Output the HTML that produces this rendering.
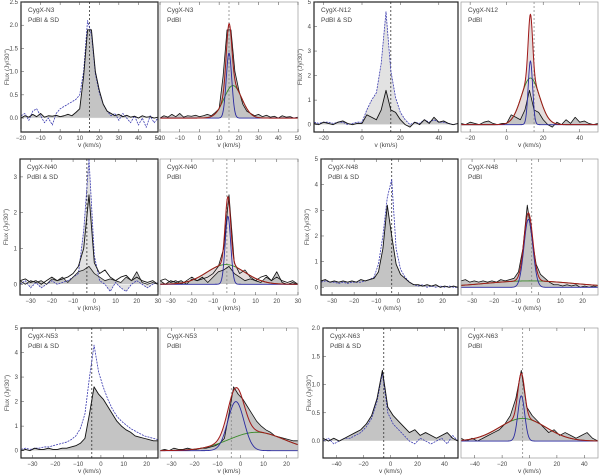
<!DOCTYPE html>
<html><head><meta charset="utf-8"><style>
body{margin:0;background:#fff;}
svg{display:block;font-family:"Liberation Sans",sans-serif;}
</style></head><body>
<svg id="fig" width="600" height="475" viewBox="0 0 600 475"></svg>
<script>
// ---- data ----
const n3Black=[0.0,0.05,0.02,0.08,0.03,0.1,0.02,0.05,0.04,0.06,0.03,0.05,0.08,0.05,0.12,0.2,0.9,1.9,1.9,1.0,0.6,0.3,0.15,0.1,0.05,0.08,0.03,0.06,0.02,0.04,0.0,0.05,0.02,0.03,0.0,0.02];
const n3Blue=[0.05,0.1,-0.05,0.15,0.2,0.05,-0.1,0.0,-0.15,0.1,0.2,0.25,0.3,0.35,0.4,0.5,1.0,2.1,1.8,0.95,0.55,0.3,0.15,0.05,0.1,-0.05,0.1,0.0,-0.1,0.05,-0.15,0.0,-0.2,0.05,-0.1,0.0];
const n12Black=[0.05,0.0,0.1,0.05,0.0,0.1,0.15,0.05,0.0,0.05,0.05,0.4,0.3,0.2,0.6,1.4,0.6,0.5,0.2,0.0,-0.1,0.1,0.0,0.2,0.05,0.3,0.1,0.15,0.05,0.0,0.05];
const n12Blue=[0.1,0.05,0.1,0.1,0.05,0.1,0.1,0.0,0.05,0.1,0.1,0.6,1.0,1.3,2.5,4.6,2.2,1.1,0.5,0.2,0.0,0.1,0.05,0.2,0.1,0.2,0.1,0.1,0.05,0.0,0.05];
const n40Black=[0.1,0.15,0.05,0.1,0.0,0.1,0.2,0.1,0.15,0.2,0.3,0.5,1.0,2.5,0.6,0.3,0.4,0.2,0.1,0.2,0.25,0.1,0.2,0.1,0.05,0.1,0.0];
const n40Blue=[0.0,0.1,-0.1,0.05,-0.1,0.0,0.1,0.0,0.05,0.1,0.2,0.3,1.5,3.5,0.8,0.1,0.0,-0.2,0.05,-0.1,-0.2,0.0,0.1,0.0,-0.1,0.0,0.05];
const n40Pdbi=[0.1,0.0,0.1,0.05,0.1,0.0,0.15,0.1,0.2,0.05,0.2,0.35,0.4,0.5,0.3,0.2,0.1,0.15,0.1,0.05,0.2,0.1,0.35,0.05,0.0,0.05,0.0];
const n48Black=[0.25,0.3,0.2,0.25,0.2,0.25,0.2,0.25,0.2,0.3,0.25,0.3,0.35,0.6,1.5,3.2,2.0,0.9,0.5,0.35,0.2,0.1,0.1,0.05,0.1,0.05,0.1,0.0,0.05,0.0,0.05,0.0];
const n48Blue=[0.2,0.25,0.2,0.2,0.15,0.2,0.15,0.2,0.2,0.2,0.25,0.3,0.4,0.9,2.0,3.5,4.2,1.5,0.7,0.4,0.2,0.1,0.05,0.1,0.0,0.05,0.0,0.05,0.0,0.05,0.0,0.0];
const n53Black=[0.0,0.05,0.0,0.1,0.05,0.05,0.1,0.05,0.05,0.1,0.1,0.15,0.2,0.3,0.5,1.5,2.6,2.3,2.1,1.8,1.5,1.2,1.0,0.85,0.75,0.6,0.55,0.5,0.45,0.4,0.4];
const n53Blue=[0.05,0.1,0.05,0.1,0.1,0.15,0.15,0.2,0.25,0.3,0.35,0.45,0.6,0.9,1.5,3.0,4.3,3.2,2.6,2.1,1.7,1.4,1.2,1.05,0.9,0.8,0.7,0.6,0.55,0.5,0.45];
const n63Black=[0.05,0.0,0.05,0.0,0.05,0.1,0.15,0.2,0.3,0.45,0.75,1.25,0.6,0.45,0.35,0.25,0.15,0.2,0.1,0.15,0.1,0.05,0.1,0.15,0.05,0.0];
const n63Blue=[0.0,0.05,-0.05,0.0,0.05,0.05,0.1,0.15,0.25,0.4,0.7,1.2,0.5,0.3,0.2,0.1,0.0,-0.05,0.05,0.0,-0.05,0.0,0.05,-0.05,0.1,0.0];
// fit components: [narrow, broad]
const fitCenters={n3:[15,17],n12:[13,13],n40:[-3,-4],n48:[-4.5,-4],n53:[-2,7],n63:[-6,-5]};
const fitAmps={n3:[1.4,0.7],n12:[2.6,1.9],n40:[1.9,0.55],n48:[2.65,0.25],n53:[2.0,0.75],n63:[0.8,0.4]};
const fitSigmas={n3:[1.4,4.5],n12:[1.2,5],n40:[1.3,9],n48:[2,20],n53:[3.5,12],n63:[2.5,17]};

const NS='http://www.w3.org/2000/svg';
const svg=document.getElementById('fig');
function mk(tag,attrs,parent){const e=document.createElementNS(NS,tag);for(const k in attrs)e.setAttribute(k,attrs[k]);(parent||svg).appendChild(e);return e;}

const rows=[[2,132],[159,295],[328,458]];
const panels=[
 {id:'n3',name:'CygX-N3',row:0,x0:21,x1:158,xr:[-20,50],yr:[-0.3,2.5],xt:[-20,-10,0,10,20,30,40,50],yt:[0,0.5,1,1.5,2,2.5],yf:1,vl:15,g0:-20,gs:2,blk:n3Black,blu:n3Blue,sd:true},
 {id:'n3',name:'CygX-N3',row:0,x0:160,x1:298,xr:[-20,50],yr:[-0.3,2.5],xt:[-20,-10,0,10,20,30,40,50],yt:[],vl:15,g0:-20,gs:2,blk:n3Black,sd:false},
 {id:'n12',name:'CygX-N12',row:0,x0:314,x1:458,xr:[-25,50],yr:[-0.3,5],xt:[-20,0,20,40],yt:[0,1,2,3,4,5],yf:0,vl:15,g0:-25,gs:2.5,blk:n12Black,blu:n12Blue,sd:true},
 {id:'n12',name:'CygX-N12',row:0,x0:461,x1:598,xr:[-25,50],yr:[-0.3,5],xt:[-20,0,20,40],yt:[],vl:15,g0:-25,gs:2.5,blk:n12Black,sd:false},
 {id:'n40',name:'CygX-N40',row:1,x0:20,x1:158,xr:[-35,30],yr:[-0.3,3.5],xt:[-30,-20,-10,0,10,20,30],yt:[0,1,2,3],yf:0,vl:-3.5,g0:-35,gs:2.5,blk:n40Black,blu:n40Blue,dark:n40Pdbi,sd:true},
 {id:'n40',name:'CygX-N40',row:1,x0:160,x1:298,xr:[-35,30],yr:[-0.3,3.5],xt:[-30,-20,-10,0,10,20,30],yt:[],vl:-3.5,g0:-35,gs:2.5,blk:n40Pdbi,sd:false},
 {id:'n48',name:'CygX-N48',row:1,x0:321,x1:458,xr:[-35,27],yr:[-0.3,5],xt:[-30,-20,-10,0,10,20],yt:[0,1,2,3,4,5],yf:0,vl:-3,g0:-35,gs:2,blk:n48Black,blu:n48Blue,sd:true},
 {id:'n48',name:'CygX-N48',row:1,x0:461,x1:598,xr:[-35,27],yr:[-0.3,5],xt:[-30,-20,-10,0,10,20],yt:[],vl:-3,g0:-35,gs:2,blk:n48Black,sd:false},
 {id:'n53',name:'CygX-N53',row:2,x0:21,x1:158,xr:[-35,25],yr:[-0.3,5],xt:[-30,-20,-10,0,10,20],yt:[0,1,2,3,4,5],yf:0,vl:-4,g0:-35,gs:2,blk:n53Black,blu:n53Blue,sd:true},
 {id:'n53',name:'CygX-N53',row:2,x0:160,x1:298,xr:[-35,25],yr:[-0.3,5],xt:[-30,-20,-10,0,10,20],yt:[],vl:-4,g0:-35,gs:2,blk:n53Black,sd:false},
 {id:'n63',name:'CygX-N63',row:2,x0:323,x1:458,xr:[-50,50],yr:[-0.3,2],xt:[-40,-20,0,20,40],yt:[0,0.5,1,1.5,2],yf:1,vl:-5,g0:-50,gs:4,blk:n63Black,blu:n63Blue,sd:true},
 {id:'n63',name:'CygX-N63',row:2,x0:461,x1:598,xr:[-50,50],yr:[-0.3,2],xt:[-40,-20,0,20,40],yt:[],vl:-5,g0:-50,gs:4,blk:n63Black,sd:false}
];

panels.forEach((p,pi)=>{
 const y0=rows[p.row][0], y1=rows[p.row][1];
 const sx=v=>p.x0+(v-p.xr[0])/(p.xr[1]-p.xr[0])*(p.x1-p.x0);
 const sy=f=>y1-(f-p.yr[0])/(p.yr[1]-p.yr[0])*(y1-y0);
 const g=mk('g',{});
 
 
 const clipId='c'+pi;
 const cp=mk('clipPath',{id:clipId},g);mk('rect',{x:p.x0,y:y0,width:p.x1-p.x0,height:y1-y0},cp);
 const plot=mk('g',{'clip-path':'url(#'+clipId+')'},g);
 const pts=arr=>arr.map((f,i)=>[sx(p.g0+i*p.gs),sy(f)]);
 const area=(arr,fill,name)=>{const P=pts(arr);const d='M'+P[0][0]+','+sy(0)+P.map(q=>'L'+q[0]+','+q[1]).join('')+'L'+P[P.length-1][0]+','+sy(0)+'Z';const e=mk('path',{d:d,fill:fill},plot);};
 const line=(P,stroke,w,dash,name)=>{const e=mk('polyline',{points:P.map(q=>q.join(',')).join(' '),fill:'none',stroke:stroke,'stroke-width':w,'stroke-dasharray':dash||'none','stroke-linejoin':'round'},plot);};
 const c=fitCenters[p.id],a=fitAmps[p.id],s=fitSigmas[p.id];
 const gauss=(k,v)=>a[k]*Math.exp(-0.5*Math.pow((v-c[k])/s[k],2));
 let fv=[];for(let v=p.xr[0];v<=p.xr[1];v+=0.25)fv.push(v);
 if(p.sd){
  if(p.id==='n12'||p.id==='n40')area(p.blu,'#e2e2e2','sd-spectrum-fill');
  area(p.dark||p.blk,'#c4c4c4','spectrum-fill');
 } else {
  const tot=fv.map(v=>[sx(v),sy(gauss(0,v)+gauss(1,v))]);
  const e=mk('path',{d:'M'+sx(fv[0])+','+sy(0)+tot.map(q=>'L'+q[0]+','+q[1]).join('')+'L'+sx(fv[fv.length-1])+','+sy(0)+'Z',fill:'#e4dcdc'},plot);
  
  area(p.blk,'#c4c4c4','spectrum-fill');
 }
 const zl=mk('line',{x1:p.x0,x2:p.x1,y1:sy(0),y2:sy(0),stroke:'#fff','stroke-width':0.5},plot);
 const vl=mk('line',{x1:sx(p.vl),x2:sx(p.vl),y1:y0,y2:y1,stroke:p.sd?'#333':'#888','stroke-width':0.8,'stroke-dasharray':'2,2'},plot);
 
 if(p.sd){
  line(pts(p.blu),'#3a3ab0',0.8,'2,1','sd-spectrum-line');
  line(pts(p.blk),'#111',0.9,null,'combined-spectrum-line');
  if(p.dark)line(pts(p.dark),'#222',0.8,null,'pdbi-spectrum-line');
 } else {
  line(pts(p.blk),'#111',0.8,null,'pdbi-spectrum-line');
  if(p.id==='n40')line(pts(n40Black),'#111',0.8,null,'spectrum-line');
  line(fv.map(v=>[sx(v),sy(gauss(1,v))]),'#3a8a2a',0.9,null,'broad-component-line');
  line(fv.map(v=>[sx(v),sy(gauss(0,v))]),'#2a2aa0',0.9,null,'narrow-component-line');
  line(fv.map(v=>[sx(v),sy(gauss(0,v)+gauss(1,v))]),'#a01818',1,null,'total-fit-line');
 }
 // frame
 const fr=mk('rect',{x:p.x0,y:y0,width:p.x1-p.x0,height:y1-y0,fill:'none',stroke:p.sd?'#222':'#999','stroke-width':p.sd?1.2:0.7},g);
 
 // ticks
 p.xt.forEach(t=>{const X=sx(t);mk('line',{x1:X,x2:X,y1:y1,y2:y1-3,stroke:'#444','stroke-width':0.5},g);mk('line',{x1:X,x2:X,y1:y0,y2:y0+3,stroke:'#444','stroke-width':0.5},g);
  const tx=mk('text',{x:X,y:y1+8,'font-size':6,fill:'#444','text-anchor':'middle'},g);tx.textContent=(t<0?'\u2212'+(-t):t);});
 p.yt.forEach(t=>{const Y=sy(t);mk('line',{x1:p.x0,x2:p.x0+3,y1:Y,y2:Y,stroke:'#444','stroke-width':0.5},g);
  const tx=mk('text',{x:p.x0-3,y:Y+2,'font-size':6,fill:'#444','text-anchor':'end'},g);tx.textContent=p.yf?t.toFixed(1):t;});
 const xl=mk('text',{x:(p.x0+p.x1)/2,y:y1+15,'font-size':6.5,fill:'#444','text-anchor':'middle'},g);xl.textContent='v (km/s)';
 
 if(p.sd){const yl=mk('text',{x:0,y:0,'font-size':6.5,fill:'#555','text-anchor':'middle',transform:'translate('+(p.x0-12)+','+((y0+y1)/2)+') rotate(-90)'},g);yl.textContent='Flux (Jy/30")';
  }
 const t1=mk('text',{x:p.x0+7,y:y0+10,'font-size':6.5,fill:'#444'},g);t1.textContent=p.name;
 
 const t2=mk('text',{x:p.x0+7,y:y0+20,'font-size':6.5,fill:'#444'},g);t2.textContent=p.sd?'PdBI & SD':'PdBI';
 
});
</script>
</body></html>
